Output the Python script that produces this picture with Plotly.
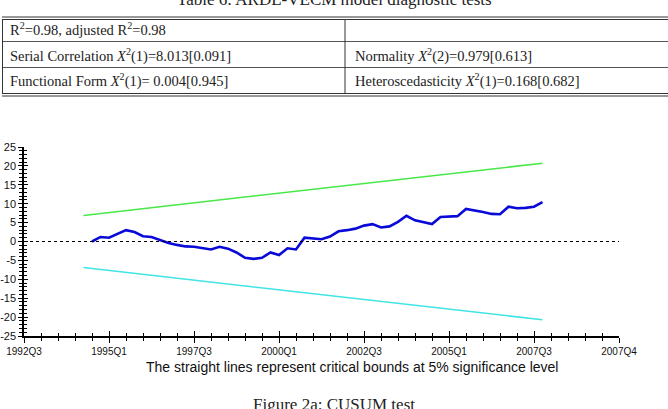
import plotly.graph_objects as go

# ---------------- data ----------------
# quarter index: 0 = 1992Q3
cusum_quarters = list(range(8, 62))
cusum_values = [0.0, 1.2, 1.0, 2.0, 3.0, 2.5, 1.4, 1.2, 0.4, -0.4,
                -0.9, -1.3, -1.4, -1.8, -2.1, -1.4, -1.9, -2.9, -4.3, -4.6,
                -4.3, -2.9, -3.6, -1.8, -2.1, 1.0, 0.7, 0.6, 1.3, 2.7,
                3.0, 3.4, 4.2, 4.6, 3.7, 4.0, 5.2, 6.8, 5.6, 5.0,
                4.6, 6.5, 6.6, 6.7, 8.6, 8.3, 7.8, 7.3, 7.2, 9.2,
                8.8, 8.9, 9.2, 10.4]
bound_quarters = [7, 61]
upper_bound = [6.9, 20.7]
lower_bound = [-6.9, -20.7]

x_tick_vals = [0, 10, 20, 30, 40, 50, 60, 70]
x_tick_text = ["1992Q3", "1995Q1", "1997Q3", "2000Q1", "2002Q3", "2005Q1", "2007Q3", "2007Q4"]
y_tick_vals = [25, 20, 15, 10, 5, 0, -5, -10, -15, -20, -25]
y_tick_text = ["25", "20", "15", "10", "5", "0", "-5", "-10", "-15", "-20", "-25"]

table_rows = [
    ["R<sup>2</sup>=0.98, adjusted R<sup>2</sup>=0.98", ""],
    ["Serial Correlation <i>X</i><sup>2</sup>(1)=8.013[0.091]", "Normality <i>X</i><sup>2</sup>(2)=0.979[0.613]"],
    ["Functional Form <i>X</i><sup>2</sup>(1)= 0.004[0.945]", "Heteroscedasticity <i>X</i><sup>2</sup>(1)=0.168[0.682]"],
]

# ---------------- layout helpers ----------------
W, H = 668, 409
def px(x):
    return x / W
def py(y):
    return 1 - y / H

fig = go.Figure()

fig.add_trace(go.Scatter(x=bound_quarters, y=upper_bound, mode="lines",
                         line=dict(color="#48e848", width=1.6),
                         xaxis="x2", yaxis="y2", showlegend=False))
fig.add_trace(go.Scatter(x=bound_quarters, y=lower_bound, mode="lines",
                         line=dict(color="#40e4e4", width=1.6),
                         xaxis="x2", yaxis="y2", showlegend=False))
fig.add_trace(go.Scatter(x=cusum_quarters, y=cusum_values, mode="lines",
                         line=dict(color="#0a0ad8", width=2.6),
                         showlegend=False))

fig.add_hline(y=0, line=dict(color="black", width=1, dash="3px,3px"))

xdom = [px(24), px(619)]
ydom = [py(336), py(147)]
tickfont = dict(family="Liberation Sans", size=10, color="#111")

fig.update_layout(
    width=W, height=H,
    margin=dict(l=0, r=0, t=0, b=0, autoexpand=False),
    paper_bgcolor="white", plot_bgcolor="white",
    xaxis=dict(domain=xdom, range=[0, 70], showgrid=False, zeroline=False, automargin=False,
               showline=True, linecolor="black", linewidth=1.5,
               tickmode="array", tickvals=x_tick_vals, ticktext=x_tick_text,
               ticks="outside", ticklen=5, tickwidth=1, tickcolor="black",
               minor=dict(dtick=2, tick0=0, ticks="outside", ticklen=3, tickcolor="black"),
               tickfont=tickfont, anchor="y"),
    yaxis=dict(domain=ydom, range=[-25, 25], showgrid=False, zeroline=False, automargin=False,
               showline=True, linecolor="black", linewidth=1.5,
               tickmode="array", tickvals=y_tick_vals, ticktext=y_tick_text,
               ticks="outside", ticklen=4, tickwidth=1, tickcolor="black",
               minor=dict(dtick=1, tick0=0, ticks="outside", ticklen=3, tickcolor="black"),
               tickfont=dict(family="Liberation Sans", size=11, color="#111"), anchor="x"),
    xaxis2=dict(domain=xdom, range=[0, 70], overlaying="x", anchor="y2", automargin=False,
                showgrid=False, zeroline=False, showline=False, showticklabels=False,
                tickmode="array", tickvals=x_tick_vals,
                ticks="inside", ticklen=5, tickcolor="black",
                minor=dict(dtick=2, tick0=0, ticks="inside", ticklen=3, tickcolor="black")),
    yaxis2=dict(domain=ydom, range=[-25, 25], overlaying="y", anchor="x2", automargin=False,
                showgrid=False, zeroline=False, showline=False, showticklabels=False,
                tickmode="array", tickvals=y_tick_vals,
                ticks="inside", ticklen=4, tickcolor="black",
                minor=dict(dtick=1, tick0=0, ticks="inside", ticklen=3, tickcolor="black")),
)

serif = "Liberation Serif"
annotations = []
annotations.append(dict(text="Table 6: ARDL-VECM model diagnostic tests",
                        x=px(334), y=py(-0.5), xref="paper", yref="paper",
                        xanchor="center", yanchor="middle", showarrow=False,
                        font=dict(family=serif, size=17, color="#222")))
row_y = [29, 55, 81]
col_x = [8, 353]
for r, row in enumerate(table_rows):
    for c, txt in enumerate(row):
        if not txt:
            continue
        annotations.append(dict(text=txt, x=px(col_x[c]), y=py(row_y[r]),
                                xref="paper", yref="paper", xanchor="left", yanchor="middle",
                                showarrow=False, font=dict(family=serif, size=14.5, color="#222")))
annotations.append(dict(text="The straight lines represent critical bounds at 5% significance level",
                        x=px(352), y=py(367), xref="paper", yref="paper",
                        xanchor="center", yanchor="middle", showarrow=False,
                        font=dict(family="Liberation Sans", size=14, color="#111")))
annotations.append(dict(text="Figure 2a: CUSUM test",
                        x=px(334), y=py(404.5), xref="paper", yref="paper",
                        xanchor="center", yanchor="middle", showarrow=False,
                        font=dict(family=serif, size=17, color="#222")))
fig.update_layout(annotations=annotations)

shapes = []
def hline(y, w=1, color="#333"):
    shapes.append(dict(type="line", xref="paper", yref="paper", x0=px(2), x1=1,
                       y0=py(y), y1=py(y), line=dict(color=color, width=w)))
hline(17); hline(19.5)
hline(41.5, 1, "#555"); hline(67.5, 1, "#555")
hline(93.5); hline(96)
for xv in [2.5, 345]:
    shapes.append(dict(type="line", xref="paper", yref="paper", x0=px(xv), x1=px(xv),
                       y0=py(19.5), y1=py(93.5), line=dict(color="#333", width=1)))
fig.update_layout(shapes=list(fig.layout.shapes) + shapes)

fig.write_html("out.html")
